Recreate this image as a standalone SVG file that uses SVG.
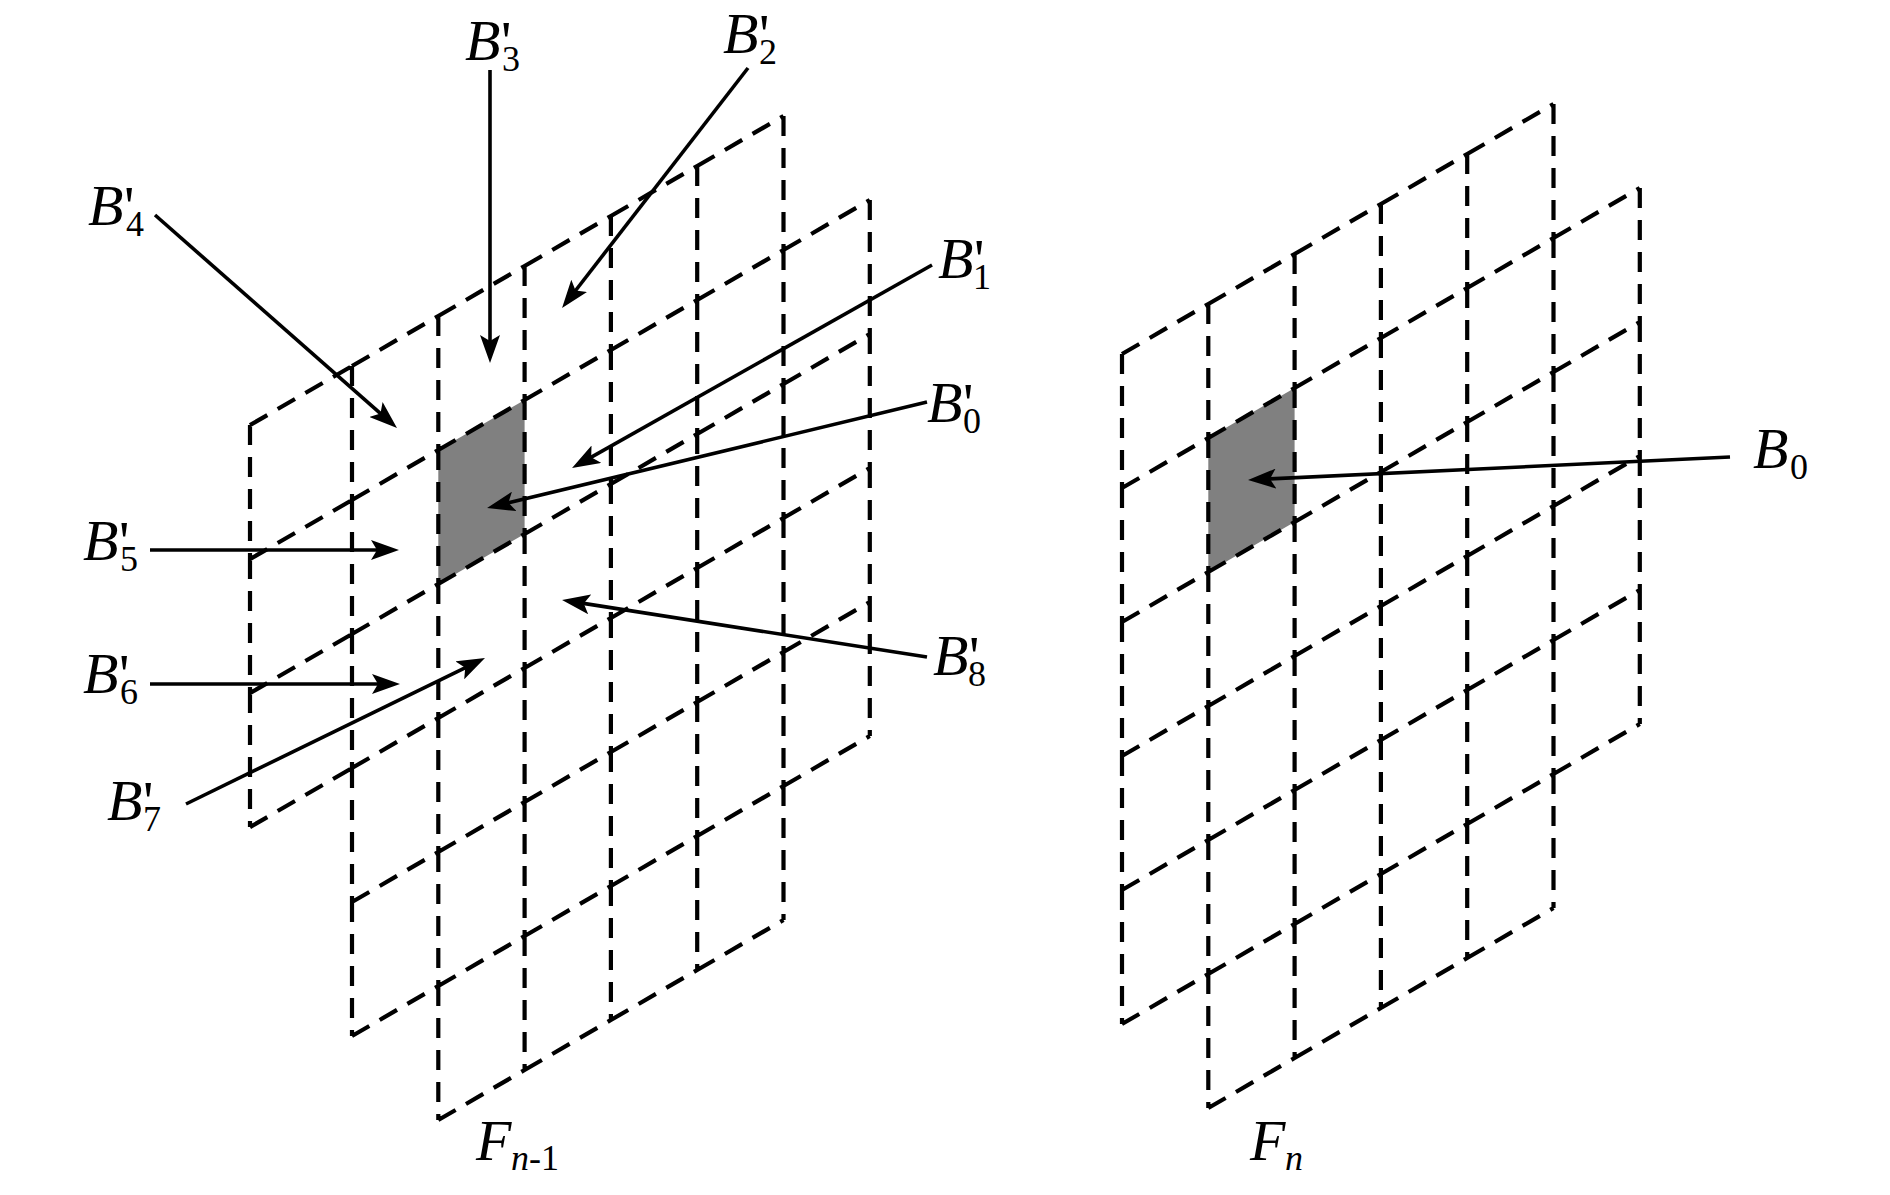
<svg xmlns="http://www.w3.org/2000/svg" width="1890" height="1195" viewBox="0 0 1890 1195">
<defs>
<style>
.grid{fill:none;stroke:#000;stroke-width:4.2;stroke-dasharray:20 12;stroke-linecap:butt}
.cell{fill:#808080;stroke:none}
.arr{fill:none;stroke:#000;stroke-width:3.6;marker-end:url(#ah)}
text{font-family:"Liberation Serif","Times New Roman",serif;fill:#000}
.it{font-style:italic;font-size:58px}
.pr{font-style:normal;font-size:58px}
.sub{font-style:normal;font-size:36px}
.subi{font-style:italic;font-size:36px}
</style>
<marker id="ah" markerUnits="userSpaceOnUse" viewBox="0 0 28 20" markerWidth="28" markerHeight="20" refX="16" refY="10" orient="auto"><path d="M0,0 L28,10 L0,20 L6,10 Z" fill="#000"/></marker>
</defs>
<rect width="1890" height="1195" fill="#fff"/>

<g id="frame-n-1">
<polygon id="block-B0p" class="cell" points="438.3,450 524.6,400 524.6,534 438.3,584"/>
<path class="grid" d="M352 366v134m0 0v134m0 0v134m0 0v134m0 0v134
M438.3 316v134m0 0v134m0 0v134m0 0v134m0 0v134m0 0v134
M524.6 266v134m0 0v134m0 0v134m0 0v134m0 0v134m0 0v134
M610.9 216v134m0 0v134m0 0v134m0 0v134m0 0v134m0 0v134
M697.2 166v134m0 0v134m0 0v134m0 0v134m0 0v134m0 0v134
M783.5 116v134m0 0v134m0 0v134m0 0v134m0 0v134m0 0v134
M869.8 200v134m0 0v134m0 0v134m0 0v134
M250 425.1v134m0 0v134m0 0v134
M352 366l86.3-50m0 0l86.3-50m0 0l86.3-50m0 0l86.3-50m0 0l86.3-50
M352 500l86.3-50m0 0l86.3-50m0 0l86.3-50m0 0l86.3-50m0 0l86.3-50m0 0l86.3-50
M352 634l86.3-50m0 0l86.3-50m0 0l86.3-50m0 0l86.3-50m0 0l86.3-50m0 0l86.3-50
M352 768l86.3-50m0 0l86.3-50m0 0l86.3-50m0 0l86.3-50m0 0l86.3-50m0 0l86.3-50
M352 902l86.3-50m0 0l86.3-50m0 0l86.3-50m0 0l86.3-50m0 0l86.3-50m0 0l86.3-50
M352 1036l86.3-50m0 0l86.3-50m0 0l86.3-50m0 0l86.3-50m0 0l86.3-50m0 0l86.3-50
M438.3 1120l86.3-50m0 0l86.3-50m0 0l86.3-50m0 0l86.3-50
M250 425.1l102-59.1M250 559.1l102-59.1M250 693.1l102-59.1M250 827.1l102-59.1"/>
</g>

<g id="frame-n">
<polygon id="block-B0" class="cell" points="1208.3,438 1294.6,388 1294.6,522 1208.3,572"/>
<path class="grid" d="M1122 354v134m0 0v134m0 0v134m0 0v134m0 0v134
M1208.3 304v134m0 0v134m0 0v134m0 0v134m0 0v134m0 0v134
M1294.6 254v134m0 0v134m0 0v134m0 0v134m0 0v134m0 0v134
M1380.9 204v134m0 0v134m0 0v134m0 0v134m0 0v134m0 0v134
M1467.2 154v134m0 0v134m0 0v134m0 0v134m0 0v134m0 0v134
M1553.5 104v134m0 0v134m0 0v134m0 0v134m0 0v134m0 0v134
M1639.8 188v134m0 0v134m0 0v134m0 0v134
M1122 354l86.3-50m0 0l86.3-50m0 0l86.3-50m0 0l86.3-50m0 0l86.3-50
M1122 488l86.3-50m0 0l86.3-50m0 0l86.3-50m0 0l86.3-50m0 0l86.3-50m0 0l86.3-50
M1122 622l86.3-50m0 0l86.3-50m0 0l86.3-50m0 0l86.3-50m0 0l86.3-50m0 0l86.3-50
M1122 756l86.3-50m0 0l86.3-50m0 0l86.3-50m0 0l86.3-50m0 0l86.3-50m0 0l86.3-50
M1122 890l86.3-50m0 0l86.3-50m0 0l86.3-50m0 0l86.3-50m0 0l86.3-50m0 0l86.3-50
M1122 1024l86.3-50m0 0l86.3-50m0 0l86.3-50m0 0l86.3-50m0 0l86.3-50m0 0l86.3-50
M1208.3 1108l86.3-50m0 0l86.3-50m0 0l86.3-50m0 0l86.3-50"/>
</g>

<g id="connectors">
<line class="arr" x1="490" y1="70" x2="490" y2="351"/>
<line class="arr" x1="748" y1="68" x2="569.4" y2="298.5"/>
<line class="arr" x1="155" y1="215" x2="388" y2="420.1"/>
<line class="arr" x1="932" y1="265" x2="582.5" y2="462.1"/>
<line class="arr" x1="927" y1="402" x2="498.7" y2="505.2"/>
<line class="arr" x1="927" y1="657" x2="573.9" y2="601.9"/>
<line class="arr" x1="150" y1="550" x2="387" y2="550"/>
<line class="arr" x1="150" y1="684" x2="388" y2="684"/>
<line class="arr" x1="186" y1="804" x2="474.2" y2="663.3"/>
<line class="arr" x1="1730" y1="457" x2="1260" y2="479.4"/>
</g>

<g id="label-B3p"><text><tspan class="it" x="465" y="60">B</tspan><tspan class="pr" x="501" y="61">'</tspan><tspan class="sub" x="502" y="71">3</tspan></text></g>
<g id="label-B2p"><text><tspan class="it" x="723" y="53">B</tspan><tspan class="pr" x="759" y="54">'</tspan><tspan class="sub" x="759" y="64">2</tspan></text></g>
<g id="label-B4p"><text><tspan class="it" x="88" y="225">B</tspan><tspan class="pr" x="124" y="226">'</tspan><tspan class="sub" x="126" y="236">4</tspan></text></g>
<g id="label-B1p"><text><tspan class="it" x="938" y="278">B</tspan><tspan class="pr" x="974" y="279">'</tspan><tspan class="sub" x="973" y="289">1</tspan></text></g>
<g id="label-B0p"><text><tspan class="it" x="927" y="422">B</tspan><tspan class="pr" x="963" y="423">'</tspan><tspan class="sub" x="963" y="433">0</tspan></text></g>
<g id="label-B5p"><text><tspan class="it" x="83" y="560">B</tspan><tspan class="pr" x="119" y="561">'</tspan><tspan class="sub" x="120" y="571">5</tspan></text></g>
<g id="label-B6p"><text><tspan class="it" x="83" y="693">B</tspan><tspan class="pr" x="119" y="694">'</tspan><tspan class="sub" x="120" y="704">6</tspan></text></g>
<g id="label-B7p"><text><tspan class="it" x="107" y="820">B</tspan><tspan class="pr" x="143" y="821">'</tspan><tspan class="sub" x="143" y="831">7</tspan></text></g>
<g id="label-B8p"><text><tspan class="it" x="933" y="675">B</tspan><tspan class="pr" x="969" y="676">'</tspan><tspan class="sub" x="968" y="686">8</tspan></text></g>
<g id="label-B0"><text><tspan class="it" x="1753" y="468">B</tspan><tspan class="sub" x="1790" y="479">0</tspan></text></g>
<g id="label-Fn-1"><text><tspan class="it" x="476" y="1160">F</tspan><tspan class="subi" x="511" y="1170">n</tspan><tspan class="sub">-1</tspan></text></g>
<g id="label-Fn"><text><tspan class="it" x="1250" y="1160">F</tspan><tspan class="subi" x="1285" y="1170">n</tspan></text></g>
</svg>
